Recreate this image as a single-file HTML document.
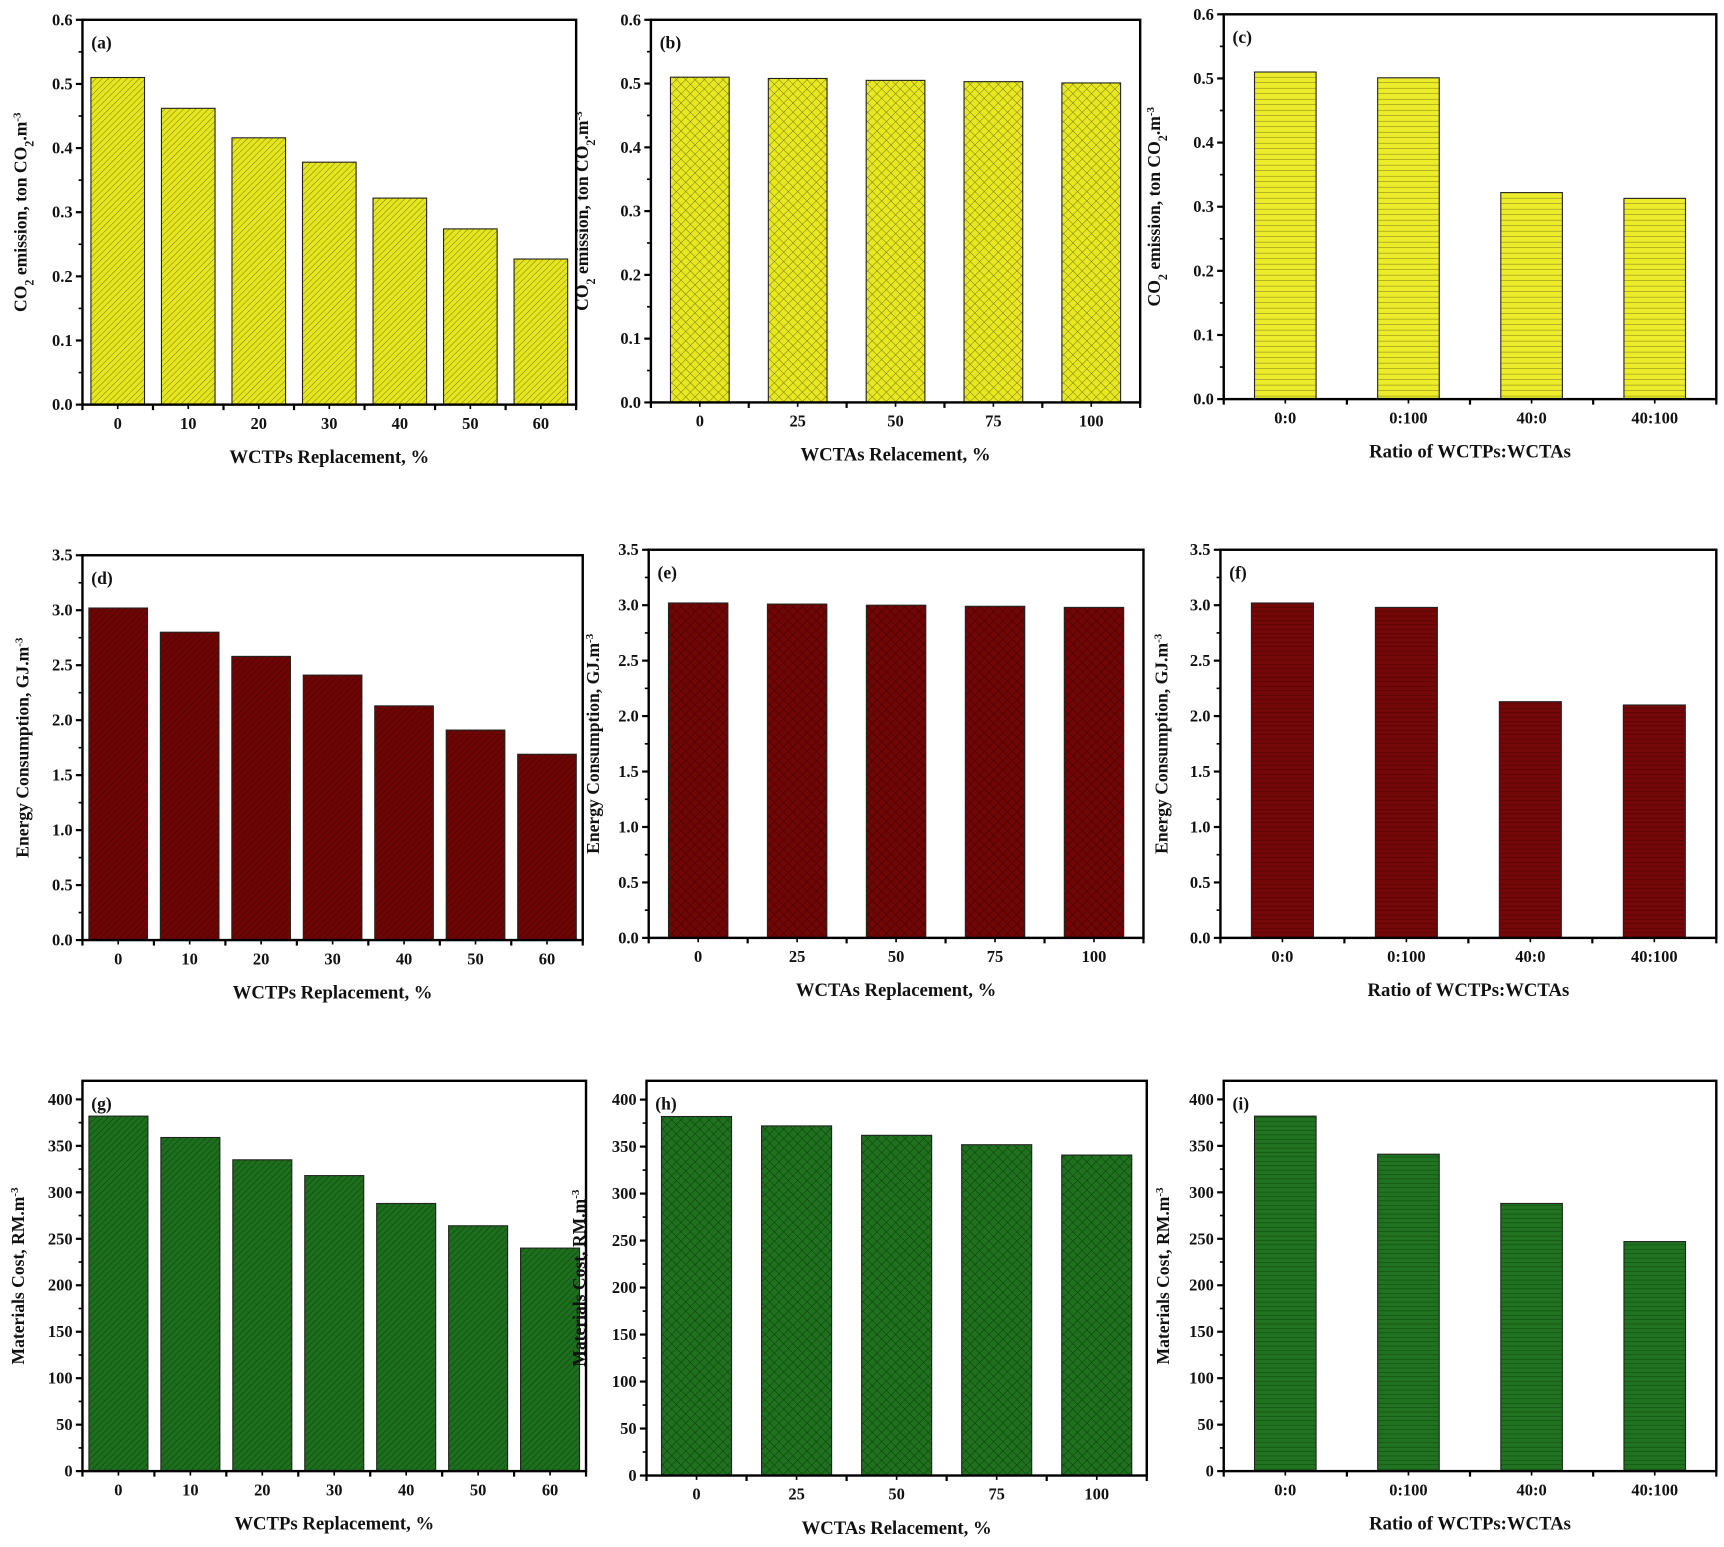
<!DOCTYPE html>
<html><head><meta charset="utf-8"><style>
html,body{margin:0;padding:0;background:#fff;}
svg{display:block;}
text{font-family:"Liberation Serif",serif;font-weight:bold;fill:#111;}
</style></head><body>
<svg id="fig" width="1724" height="1547" viewBox="0 0 1568 1407" xmlns="http://www.w3.org/2000/svg">
<defs>
<pattern id="pDiag" patternUnits="userSpaceOnUse" width="4" height="4" patternTransform="rotate(45)"><rect width="4" height="4" fill="#e6e61e"/><line x1="0" y1="0" x2="0" y2="4" stroke="#6b6b10" stroke-width="0.8"/></pattern>
<pattern id="pCross" patternUnits="userSpaceOnUse" width="6" height="6" patternTransform="rotate(45)"><rect width="6" height="6" fill="#e8e820"/><line x1="0" y1="0" x2="0" y2="6" stroke="#6b6b10" stroke-width="0.8"/><line x1="0" y1="0" x2="6" y2="0" stroke="#6b6b10" stroke-width="0.8"/></pattern>
<pattern id="pHoriz" patternUnits="userSpaceOnUse" width="6" height="5"><rect width="6" height="5" fill="#ecec2a"/><line x1="0" y1="0" x2="6" y2="0" stroke="#5a5a10" stroke-width="0.7"/></pattern>
<pattern id="rDiag" patternUnits="userSpaceOnUse" width="4" height="4" patternTransform="rotate(45)"><rect width="4" height="4" fill="#6e0505"/><line x1="0" y1="0" x2="0" y2="4" stroke="#3a0000" stroke-width="0.8"/></pattern>
<pattern id="rCross" patternUnits="userSpaceOnUse" width="6" height="6" patternTransform="rotate(45)"><rect width="6" height="6" fill="#700606"/><line x1="0" y1="0" x2="0" y2="6" stroke="#3a0000" stroke-width="0.8"/><line x1="0" y1="0" x2="6" y2="0" stroke="#3a0000" stroke-width="0.8"/></pattern>
<pattern id="rHoriz" patternUnits="userSpaceOnUse" width="6" height="4"><rect width="6" height="4" fill="#740808"/><line x1="0" y1="0" x2="6" y2="0" stroke="#3a0000" stroke-width="0.7"/></pattern>
<pattern id="gDiag" patternUnits="userSpaceOnUse" width="4" height="4" patternTransform="rotate(45)"><rect width="4" height="4" fill="#1d6e1d"/><line x1="0" y1="0" x2="0" y2="4" stroke="#063806" stroke-width="0.8"/></pattern>
<pattern id="gCross" patternUnits="userSpaceOnUse" width="6" height="6" patternTransform="rotate(45)"><rect width="6" height="6" fill="#1f701f"/><line x1="0" y1="0" x2="0" y2="6" stroke="#063806" stroke-width="0.8"/><line x1="0" y1="0" x2="6" y2="0" stroke="#063806" stroke-width="0.8"/></pattern>
<pattern id="gHoriz" patternUnits="userSpaceOnUse" width="6" height="4"><rect width="6" height="4" fill="#217221"/><line x1="0" y1="0" x2="6" y2="0" stroke="#063806" stroke-width="0.7"/></pattern>
</defs>
</svg>
<script>
// categories
const catsWCTP = ["0","10","20","30","40","50","60"];
const catsWCTA = ["0","25","50","75","100"];
const catsRatio = ["0:0","0:100","40:0","40:100"];
// series values
const valsA = [0.51,0.462,0.416,0.378,0.322,0.274,0.227];
const valsB = [0.51,0.508,0.505,0.503,0.501];
const valsC = [0.51,0.501,0.322,0.313];
const valsD = [3.02,2.80,2.58,2.41,2.13,1.91,1.69];
const valsE = [3.02,3.01,3.00,2.99,2.98];
const valsF = [3.02,2.98,2.13,2.10];
const valsG = [382,359,335,318,288,264,240];
const valsH = [382,372,362,352,341];
const valsI = [382,341,288,247];
// tick labels
const ticksCO2 = ["0.0","0.1","0.2","0.3","0.4","0.5","0.6"];
const ticksEnergy = ["0.0","0.5","1.0","1.5","2.0","2.5","3.0","3.5"];
const ticksCost = ["0","50","100","150","200","250","300","350","400"];

const NS="http://www.w3.org/2000/svg";
const svg=document.getElementById('fig');
function mk(tag,attrs,parent){const e=document.createElementNS(NS,tag);for(const k in attrs)e.setAttribute(k,attrs[k]);(parent||svg).appendChild(e);return e;}

const yTitleCO2='CO<tspan baseline-shift="sub" font-size="11">2</tspan> emission, ton CO<tspan baseline-shift="sub" font-size="11">2</tspan>.m<tspan baseline-shift="super" font-size="10">-3</tspan>';
const yTitleE='Energy Consumption, GJ.m<tspan baseline-shift="super" font-size="10">-3</tspan>';
const yTitleM='Materials Cost, RM.m<tspan baseline-shift="super" font-size="10">-3</tspan>';

const panels=[
 {id:"a",x0:75,x1:524,y0:18,y1:368,max:0.6,step:0.1,ticks:ticksCO2,cats:catsWCTP,vals:valsA,bw:0.76,fill:"pDiag",yt:yTitleCO2,xt:"WCTPs Replacement, %",ytx:24},
 {id:"b",x0:592,x1:1037,y0:18,y1:366,max:0.6,step:0.1,ticks:ticksCO2,cats:catsWCTA,vals:valsB,bw:0.6,fill:"pCross",yt:yTitleCO2,xt:"WCTAs Relacement, %",ytx:535},
 {id:"c",x0:1113,x1:1561,y0:13,y1:363,max:0.6,step:0.1,ticks:ticksCO2,cats:catsRatio,vals:valsC,bw:0.5,fill:"pHoriz",yt:yTitleCO2,xt:"Ratio of WCTPs:WCTAs",ytx:1055},
 {id:"d",x0:75,x1:530,y0:505,y1:855,max:3.5,step:0.5,ticks:ticksEnergy,cats:catsWCTP,vals:valsD,bw:0.82,fill:"rDiag",yt:yTitleE,xt:"WCTPs Replacement, %",ytx:26},
 {id:"e",x0:590,x1:1040,y0:500,y1:853,max:3.5,step:0.5,ticks:ticksEnergy,cats:catsWCTA,vals:valsE,bw:0.6,fill:"rCross",yt:yTitleE,xt:"WCTAs Replacement, %",ytx:545},
 {id:"f",x0:1110,x1:1561,y0:500,y1:853,max:3.5,step:0.5,ticks:ticksEnergy,cats:catsRatio,vals:valsF,bw:0.5,fill:"rHoriz",yt:yTitleE,xt:"Ratio of WCTPs:WCTAs",ytx:1062},
 {id:"g",x0:75,x1:533,y0:983,y1:1338,max:420,step:50,ticks:ticksCost,cats:catsWCTP,vals:valsG,bw:0.82,fill:"gDiag",yt:yTitleM,xt:"WCTPs Replacement, %",ytx:22},
 {id:"h",x0:588,x1:1043,y0:983,y1:1342,max:420,step:50,ticks:ticksCost,cats:catsWCTA,vals:valsH,bw:0.7,fill:"gCross",yt:yTitleM,xt:"WCTAs Relacement, %",ytx:532},
 {id:"i",x0:1113,x1:1561,y0:983,y1:1338,max:420,step:50,ticks:ticksCost,cats:catsRatio,vals:valsI,bw:0.5,fill:"gHoriz",yt:yTitleM,xt:"Ratio of WCTPs:WCTAs",ytx:1063}
];

panels.forEach(p=>{
  const g=mk('g',{});
  
  
  const yS=v=>p.y1-(v/p.max)*(p.y1-p.y0);
  const band=(p.x1-p.x0)/p.cats.length;
  const xC=i=>p.x0+band*(i+0.5);
  p.vals.forEach((v,i)=>{
    const w=band*p.bw;
    const r=mk('rect',{x:xC(i)-w/2,y:yS(v),width:w,height:p.y1-yS(v),fill:'url(#'+p.fill+')',stroke:'#222','stroke-width':1},g);
    
    
  });
  const fr=mk('rect',{x:p.x0,y:p.y0,width:p.x1-p.x0,height:p.y1-p.y0,fill:'none',stroke:'#000','stroke-width':2.2},g);
  
  
  p.ticks.forEach((t,k)=>{
    const v=k*p.step, y=yS(v);
    mk('line',{x1:p.x0-6,x2:p.x0,y1:y,y2:y,stroke:'#000','stroke-width':2},g);
    const tx=mk('text',{x:p.x0-9,y:y+5,'text-anchor':'end','font-size':15},g);
    tx.textContent=t;
    
    
    const vm=v+p.step/2;
    if(vm<=p.max){const ym=yS(vm);mk('line',{x1:p.x0-3.5,x2:p.x0,y1:ym,y2:ym,stroke:'#000','stroke-width':1.5},g);}
  });
  for(let i=0;i<=p.cats.length;i++){const x=p.x0+band*i;mk('line',{x1:x,x2:x,y1:p.y1,y2:p.y1+5,stroke:'#000','stroke-width':2},g);}
  p.cats.forEach((c,i)=>{
    mk('line',{x1:xC(i),x2:xC(i),y1:p.y1,y2:p.y1+4,stroke:'#000','stroke-width':1.5},g);
    const tx=mk('text',{x:xC(i),y:p.y1+22,'text-anchor':'middle','font-size':15},g);
    tx.textContent=c;
    
    
  });
  const xt=mk('text',{x:(p.x0+p.x1)/2,y:p.y1+53,'text-anchor':'middle','font-size':17},g);
  xt.textContent=p.xt;
  
  
  const cy=(p.y0+p.y1)/2;
  const yt=mk('text',{x:p.ytx,y:cy,'text-anchor':'middle','font-size':16,transform:'rotate(-90 '+p.ytx+' '+cy+')'},g);
  yt.innerHTML=p.yt;
  
  
  const lb=mk('text',{x:p.x0+8,y:p.y0+26,'font-size':16},g);
  lb.textContent='('+p.id+')';
  
  
});
</script>
</body></html>
